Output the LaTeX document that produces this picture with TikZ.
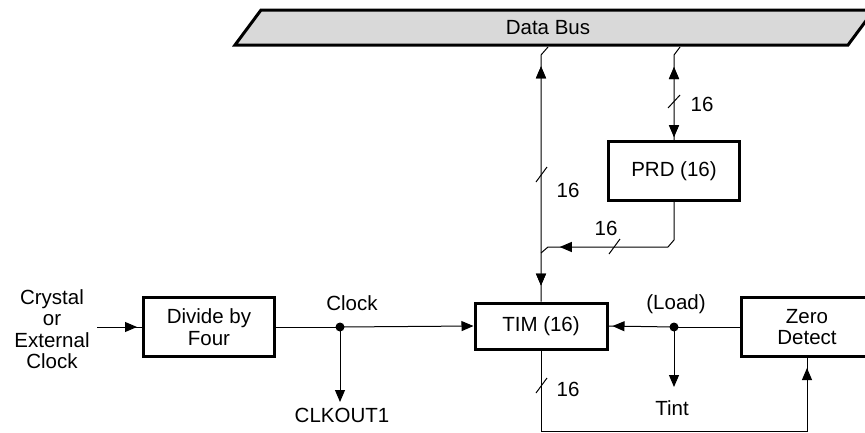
\documentclass[tikz,border=0pt]{standalone}
\usepackage{fontspec}
\setmainfont{Liberation Sans}
\usetikzlibrary{arrows.meta,decorations.markings}
\begin{document}
\begin{tikzpicture}[x=1pt,y=-1pt,
  font=\fontsize{20.5}{21.5}\selectfont,
  box/.style={draw, line width=3pt, inner sep=0pt, align=center},
  wire/.style={line width=1pt},
  tipend/.style={-{Triangle[length=12pt,width=10pt]}},
  markat/.style={postaction={decorate}, decoration={markings,
     mark=at position #1 with {\arrow{Triangle[length=12pt,width=10pt]}}}},
  markrev/.style={postaction={decorate}, decoration={markings,
     mark=at position #1 with {\arrowreversed{Triangle[length=12pt,width=10pt]}}}},
  lbl/.style={inner sep=0pt, align=center},
  slash/.style={line width=1pt}
]
\useasboundingbox (0,0) rectangle (865,432);

% Data bus
\draw[line width=3pt, fill=black!15] (235,45) -- (261,10) -- (874,10) -- (848,45) -- cycle;
\node[lbl] (bus) at (548,28) {Data Bus};

% Blocks
\node[box, minimum width=131pt, minimum height=59pt] (div) at (209,327) {Divide by\\Four};
\node[box, minimum width=132pt, minimum height=46pt] (tim) at (541,326) {TIM (16)};
\node[box, minimum width=131pt, minimum height=59pt] (zero) at (807,327) {Zero\\Detect};
\node[box, minimum width=131pt, minimum height=59pt] (prd) at (674,171) {PRD (16)};

% Labels
\node[lbl] (xtal) at (52,329) {Crystal\\or\\External\\Clock};
\node[lbl] (clklbl) at (352,303) {Clock};
\node[lbl] (clkout) at (342,415) {CLKOUT1};
\node[lbl] (load) at (676,304) {(Load)};
\node[lbl] (tint) at (672,408) {Tint};
\node[lbl] (n1) at (568,190) {16};
\node[lbl] (n2) at (702,104) {16};
\node[lbl] (n3) at (606,228) {16};
\node[lbl] (n4) at (568,389) {16};

% Coordinates
\coordinate (in) at (97,327);
\coordinate (clk) at (340,327);
\coordinate (clkend) at (340,402);
\coordinate (ld) at (674,327);
\coordinate (tintend) at (674,387);
\coordinate (busL) at (548,47);
\coordinate (busLk) at (541,55);
\coordinate (busR) at (680,47);
\coordinate (busRk) at (674,55);
\coordinate (p1) at (674,240);
\coordinate (p2) at (668,247);
\coordinate (p3) at (548,247);
\coordinate (p4) at (541,253);
\coordinate (b1) at (541,431);
\coordinate (b2) at (807,431);

% Connectors
\draw[wire, markat=-5pt] (in) -- (div.west);
\draw[wire] (div.east) -- (clk);
\draw[wire, tipend] (clk) -- (tim.west);
\draw[wire, tipend] (clk) -- (clkend);
\fill (clk) circle (4.5);

\draw[wire] (zero.west) -- (ld);
\draw[wire, markat=-4pt] (ld) -- (tim.east);
\draw[wire, tipend] (ld) -- (tintend);
\fill (ld) circle (4.5);

\draw[wire, markrev=22pt, markat=-16pt] (busL) -- (busLk) -- (tim.north);
\draw[wire, markrev=22pt, markat=-3pt] (busR) -- (busRk) -- (prd.north);
\draw[wire, markat=-21pt] (prd.south) -- (p1) -- (p2) -- (p3) -- (p4);
\draw[wire, markat=-10pt] (tim.south) -- (b1) -- (b2) -- (zero.south);

% Bus-width slashes
\draw[slash] (536,182) -- (547,167);
\draw[slash] (668,108) -- (680,95);
\draw[slash] (609,254) -- (620,239);
\draw[slash] (536,393) -- (547,378);
\end{tikzpicture}
\end{document}
